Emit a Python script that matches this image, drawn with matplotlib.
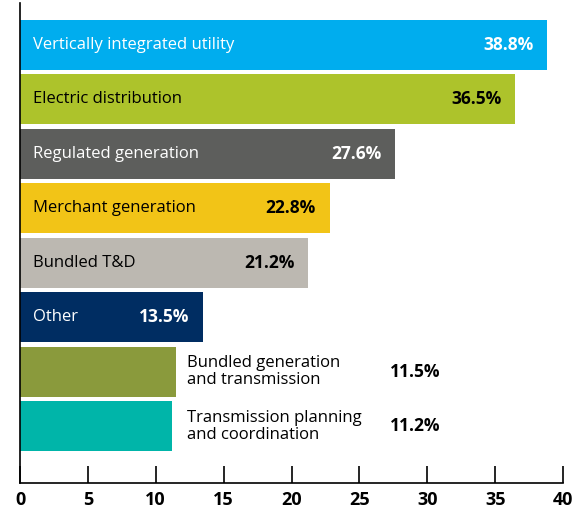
import matplotlib.pyplot as plt

categories = ["Vertically integrated utility", "Electric distribution", "Regulated generation",
              "Merchant generation", "Bundled T&D", "Other",
              "Bundled generation\nand transmission", "Transmission planning\nand coordination"]
values = [38.8, 36.5, 27.6, 22.8, 21.2, 13.5, 11.5, 11.2]
colors = ["#00adee", "#adc32b", "#5d5e5c", "#f2c417", "#bcb8b1", "#002d62", "#8a9a3c", "#00b5a9"]
text_colors = ["white", "black", "white", "black", "black", "white", "black", "black"]
inside = [True, True, True, True, True, True, False, False]

plt.rcParams['font.family'] = ['Open Sans', 'DejaVu Sans']

fig = plt.figure(figsize=(5.74, 5.13), dpi=100)
ax = fig.add_axes([20 / 574, 30 / 513, 543 / 574, 480 / 513])

y = list(range(len(values)))
ax.barh(y, values, height=0.92, color=colors)

for i, (cat, v) in enumerate(zip(categories, values)):
    if inside[i]:
        ax.text(0.95, i, cat, va="center", ha="left", fontsize=12, color=text_colors[i])
        ax.text(v - 1.0, i, f"{v:.1f}%", va="center", ha="right", fontsize=12.5,
                fontweight="bold", color=text_colors[i])
    else:
        ax.text(12.3, i, cat, va="center", ha="left", fontsize=12, color="black", linespacing=1.1)
        ax.text(31.0, i, f"{v:.1f}%", va="center", ha="right", fontsize=12.5,
                fontweight="bold", color="black")

ax.set_xlim(0, 40)
ax.set_ylim(len(values) - 1 + 1.04, -0.77)
ax.set_xticks(range(0, 41, 5))
ax.set_yticks([])
ax.tick_params(axis="x", direction="in", length=12, width=1.2, labelsize=13, pad=6)
for lab in ax.get_xticklabels():
    lab.set_fontweight("bold")
ax.spines["top"].set_visible(False)
ax.spines["right"].set_visible(False)
ax.spines["left"].set_linewidth(1.2)
ax.spines["bottom"].set_linewidth(1.2)

fig.savefig("out.png", dpi=100)
